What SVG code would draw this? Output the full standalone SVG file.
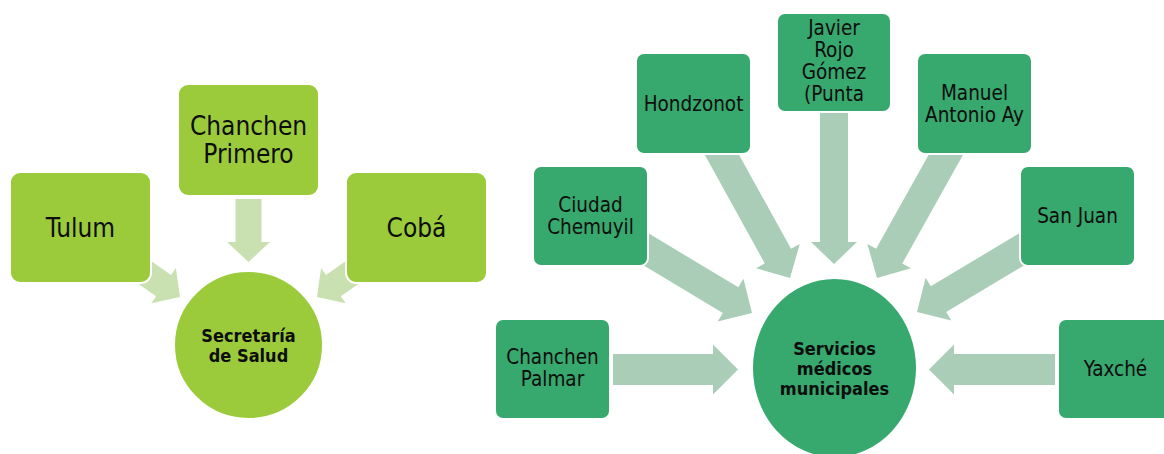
<svg xmlns="http://www.w3.org/2000/svg" width="1164" height="454" viewBox="0 0 1164 454">
<style>
.lbox{fill:#9BCB3B;stroke:#fff;stroke-width:2}
.rbox{fill:#37A86E;stroke:#fff;stroke-width:2}
.larr{fill:#C9E0B1}
.rarr{fill:#AACDB8}
.t{font-family:"DejaVu Sans Condensed","DejaVu Sans",sans-serif;fill:#0d0d0d;text-anchor:middle}
.lt{font-size:26px}
.rt{font-size:20.5px}
.bt{font-size:18px;font-weight:bold}
</style>
<rect width="1164" height="454" fill="#fff"/>
<g id="connectors">
  <polygon class="larr" transform="translate(248.5,262) rotate(90)" points="0,0 -20,-21.5 -20,-13 -63,-13 -63,13 -20,13 -20,21.5"/>
  <polygon class="larr" transform="translate(180,297) rotate(34.9)" points="0,0 -20,-21.5 -20,-13 -121,-13 -121,13 -20,13 -20,21.5"/>
  <polygon class="larr" transform="translate(317,297) rotate(145.1)" points="0,0 -20,-21.5 -20,-13 -121,-13 -121,13 -20,13 -20,21.5"/>
  <polygon class="rarr" transform="translate(738,369.5)" points="0,0 -25,-25 -25,-15.5 -125,-15.5 -125,15.5 -25,15.5 -25,25"/>
  <polygon class="rarr" transform="translate(929,369.5) rotate(180)" points="0,0 -25,-25 -25,-15.5 -126,-15.5 -126,15.5 -25,15.5 -25,25"/>
  <polygon class="rarr" transform="translate(752,313) rotate(31)" points="0,0 -25,-25 -25,-15 -188,-15 -188,15 -25,15 -25,25"/>
  <polygon class="rarr" transform="translate(917,312) rotate(149.1)" points="0,0 -25,-25 -25,-15 -187,-15 -187,15 -25,15 -25,25"/>
  <polygon class="rarr" transform="translate(790,278) rotate(61.06)" points="0,0 -25,-25 -25,-15 -199,-15 -199,15 -25,15 -25,25"/>
  <polygon class="rarr" transform="translate(877,278) rotate(119.2)" points="0,0 -25,-25 -25,-15 -199,-15 -199,15 -25,15 -25,25"/>
  <polygon class="rarr" transform="translate(834,264) rotate(90)" points="0,0 -22,-23 -22,-14 -201,-14 -201,14 -22,14 -22,23"/>
</g>
<g id="tulum">
  <rect class="lbox" x="10" y="172" width="141" height="111" rx="10"/>
  <text class="t lt" x="80.5" y="237">Tulum</text>
</g>
<g id="chanchen-primero">
  <rect class="lbox" x="178" y="84" width="141" height="112" rx="10"/>
  <text class="t lt" x="248.5" y="135">Chanchen</text>
  <text class="t lt" x="248.5" y="163">Primero</text>
</g>
<g id="coba">
  <rect class="lbox" x="346" y="172" width="141" height="111" rx="10"/>
  <text class="t lt" x="416.5" y="237">Cobá</text>
</g>
<g id="secretaria">
  <ellipse cx="248.5" cy="345" rx="74.5" ry="74" fill="#9BCB3B" stroke="#fff" stroke-width="2"/>
  <text class="t bt" x="248.5" y="342">Secretaría</text>
  <text class="t bt" x="248.5" y="362">de Salud</text>
</g>
<g id="chanchen-palmar">
  <rect class="rbox" x="495" y="319" width="115" height="100" rx="8"/>
  <text class="t rt" x="552.5" y="364">Chanchen</text>
  <text class="t rt" x="552.5" y="386">Palmar</text>
</g>
<g id="ciudad-chemuyil">
  <rect class="rbox" x="533" y="166" width="115" height="100" rx="8"/>
  <text class="t rt" x="590.5" y="212">Ciudad</text>
  <text class="t rt" x="590.5" y="234">Chemuyil</text>
</g>
<g id="hondzonot">
  <rect class="rbox" x="636" y="53" width="115" height="101" rx="8"/>
  <text class="t rt" x="693.5" y="111">Hondzonot</text>
</g>
<g id="javier-rojo-gomez">
  <rect class="rbox" x="777" y="13" width="114" height="99" rx="8"/>
  <text class="t rt" x="834" y="35">Javier</text>
  <text class="t rt" x="834" y="57">Rojo</text>
  <text class="t rt" x="834" y="79">Gómez</text>
  <text class="t rt" x="834" y="101">(Punta</text>
</g>
<g id="manuel-antonio-ay">
  <rect class="rbox" x="917" y="53" width="115" height="101" rx="8"/>
  <text class="t rt" x="974.5" y="100">Manuel</text>
  <text class="t rt" x="974.5" y="122">Antonio Ay</text>
</g>
<g id="san-juan">
  <rect class="rbox" x="1020" y="166" width="115" height="100" rx="8"/>
  <text class="t rt" x="1077.5" y="223">San Juan</text>
</g>
<g id="yaxche">
  <rect class="rbox" x="1058" y="319" width="115" height="100" rx="8"/>
  <text class="t rt" x="1115.5" y="376">Yaxché</text>
</g>
<g id="servicios">
  <ellipse cx="834.5" cy="368" rx="82.5" ry="90" fill="#37A86E" stroke="#fff" stroke-width="2"/>
  <text class="t bt" x="834.5" y="355">Servicios</text>
  <text class="t bt" x="834.5" y="375">médicos</text>
  <text class="t bt" x="834.5" y="395">municipales</text>
</g>
</svg>
